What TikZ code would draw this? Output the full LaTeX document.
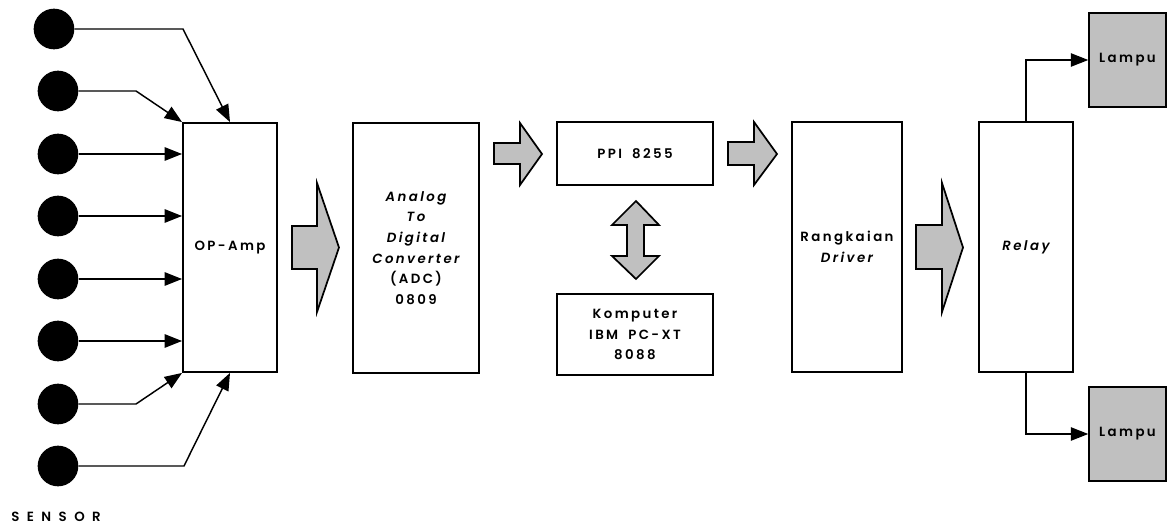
\documentclass[tikz,border=0pt]{standalone}
\usepackage{fontspec}
\setmainfont{Poppins}[UprightFont=* SemiBold, ItalicFont=* SemiBold Italic, BoldFont=* Bold, WordSpace=1.8]
\usetikzlibrary{arrows.meta}
\definecolor{silverfill}{HTML}{C0C0C0}
\begin{document}
\begin{tikzpicture}[x=0.75pt,y=-0.75pt,
  box/.style={draw, line width=1.4pt, fill=white, rectangle, inner sep=0pt,
    font=\fontsize{10}{15.5}\selectfont\addfontfeatures{LetterSpace=18}, align=center},
  lampbox/.style={box, fill=silverfill},
  sensor/.style={circle, fill=black, minimum size=30.5pt, inner sep=0pt},
  arr/.style={line width=1.1pt, -{Triangle[length=13pt,width=10pt]}},
  blockarrow/.style={draw, line width=1.3pt, fill=silverfill, line join=miter}]
\useasboundingbox (0,0) rectangle (1168,524);

% sensors
\node[sensor] (s1) at (54,29) {};
\node[sensor] (s2) at (58,91) {};
\node[sensor] (s3) at (58,154) {};
\node[sensor] (s4) at (58,216) {};
\node[sensor] (s5) at (58,279) {};
\node[sensor] (s6) at (58,341) {};
\node[sensor] (s7) at (58,404) {};
\node[sensor] (s8) at (58,466) {};
\node[anchor=base west, inner sep=0pt, font=\fontsize{10}{12}\selectfont\addfontfeatures{LetterSpace=56}] (sen) at (11,521) {SENSOR};

% blocks
\node[box, minimum width=70.5pt, minimum height=186.75pt] (op) at (230,247.5) {OP-Amp};
\node[box, minimum width=94.5pt, minimum height=187.5pt] (adc) at (416,248)
  {\itshape Analog\\ \itshape To\\ \itshape Digital\\ \itshape Converter\\ (ADC)\\ 0809};
\node[box, minimum width=117pt, minimum height=47.25pt] (ppi) at (635,153.5) {PPI 8255};
\node[box, minimum width=117pt, minimum height=60.75pt] (pc) at (635,334.5) {Komputer\\ IBM PC-XT\\ 8088};
\node[box, minimum width=82.5pt, minimum height=187.5pt] (drv) at (847,247) {Rangkaian\\ \itshape Driver};
\node[box, minimum width=70.5pt, minimum height=187.5pt] (rel) at (1026,247) {\itshape Relay};
\node[lampbox, minimum width=57.5pt, minimum height=70.5pt] (l1) at (1127.5,60) {Lampu};
\node[lampbox, minimum width=57.5pt, minimum height=70.5pt] (l2) at (1127.5,434) {Lampu};

% sensor connectors
\coordinate (b1) at (183,29);
\coordinate (b2) at (136,91);
\coordinate (b7) at (136,404);
\coordinate (b8) at (184,466);
\draw[arr] (s1.east) -- (b1) -- (op.north);
\draw[arr] (s2.east) -- (b2) -- (op.north west);
\draw[arr] (s3.east) -- (s3.east -| op.west);
\draw[arr] (s4.east) -- (s4.east -| op.west);
\draw[arr] (s5.east) -- (s5.east -| op.west);
\draw[arr] (s6.east) -- (s6.east -| op.west);
\draw[arr] (s7.east) -- (b7) -- (op.south west);
\draw[arr] (s8.east) -- (b8) -- (op.south);

% relay to lamps
\draw[arr] (rel.north) |- (l1.west);
\draw[arr] (rel.south) |- (l2.west);

% block arrows
\draw[blockarrow] (292,226) -- (317,226) -- (317,183) -- (339,247.5) -- (317,312) -- (317,269) -- (292,269) -- cycle;
\draw[blockarrow] (494,143) -- (520,143) -- (520,123) -- (542,154) -- (520,185) -- (520,164) -- (494,164) -- cycle;
\draw[blockarrow] (728,142) -- (754,142) -- (754,122) -- (777,154) -- (754,185) -- (754,165) -- (728,165) -- cycle;
\draw[blockarrow] (916,225) -- (942,225) -- (942,183) -- (963,247.5) -- (942,312) -- (942,269) -- (916,269) -- cycle;
\draw[blockarrow] (636,201) -- (659,225) -- (644,225) -- (644,256) -- (659,256) -- (636,279) -- (612,256) -- (627,256) -- (627,225) -- (612,225) -- cycle;
\end{tikzpicture}
\end{document}
